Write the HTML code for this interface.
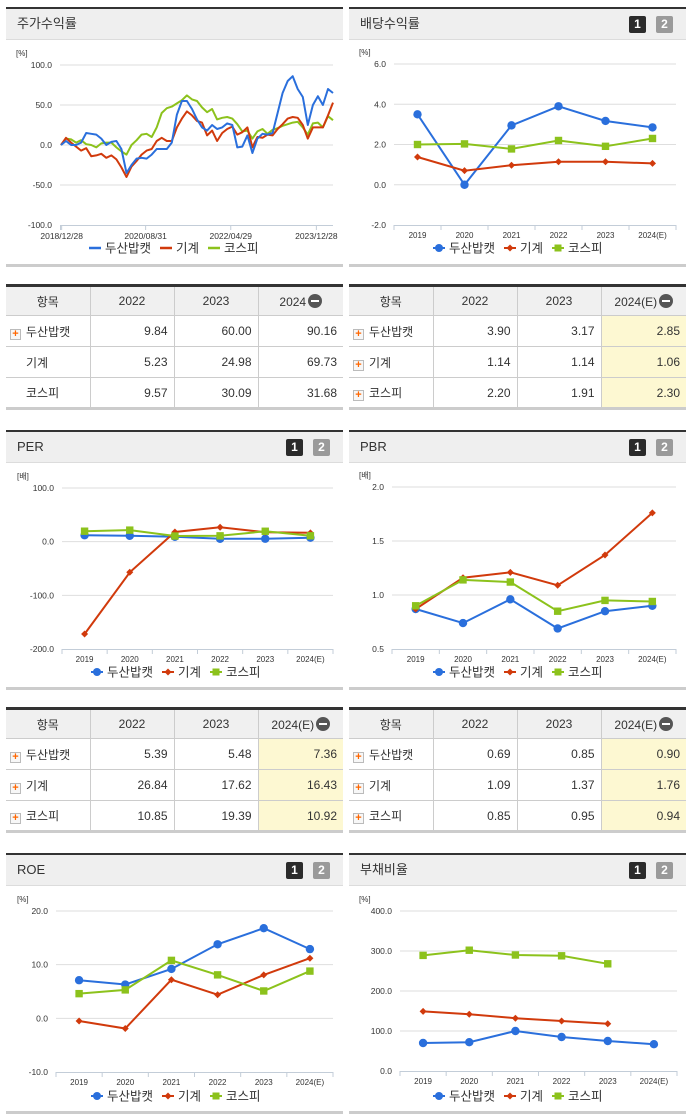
<!DOCTYPE html>
<html><head><meta charset="utf-8">
<style>
*{box-sizing:border-box;margin:0;padding:0}
body{width:691px;height:1115px;background:#fff;position:relative;overflow:hidden;font-family:"Liberation Sans","Noto Sans CJK KR",sans-serif;color:#333}
.panel{position:absolute;width:337px;border-top:2px solid #333;border-bottom:3px solid #ccc}
.hdr{height:31px;background:#efefef;border-bottom:1px solid #dcdcdc;font-size:13px;line-height:30px;padding-left:11px;position:relative}
.b1,.b2{position:absolute;top:7px;width:17px;height:17px;border-radius:2px;color:#fff;font-size:12px;font-weight:bold;line-height:17px;text-align:center}
.b1{right:40px;background:#2b2b2b}.b2{right:13px;background:#9a9a9a}
table{position:absolute;width:337px;border-collapse:collapse;border-top:3px solid #333;border-bottom:3px solid #ccc;font-size:12px}
td,th{height:31px;border-bottom:1px solid #ccc;border-right:1px solid #ccc;font-weight:normal}
td:last-child,th:last-child{border-right:none}
tr:last-child td{border-bottom:none}
th{background:#f0f0f0;text-align:center;height:30px}
td.n{text-align:right;padding-right:6px}
td.hl{background:#fdf8d2}
td.nm{padding-left:4px;white-space:nowrap}
.pl{display:inline-block;width:11px;height:11px;border:1px solid #bbb;background:#f7f7f7;color:#f60;font-size:11px;line-height:9px;text-align:center;font-weight:bold;vertical-align:-1px;margin-right:5px}
.sp{display:inline-block;width:16px}
.mi{display:inline-block;width:14px;height:14px;border-radius:7px;background:#555;vertical-align:-2px;position:relative;margin-left:2px}
.mi:after{content:"";position:absolute;left:3px;top:6px;width:8px;height:2px;background:#fff}
.lg{position:absolute;width:337px;text-align:center;font-size:12px;white-space:nowrap}
.lg span{margin:0 3px}
svg{position:absolute;left:0;top:0}
</style></head><body>

<div class="panel" style="left:6px;top:7px;height:260px"><div class="hdr">주가수익률</div></div>
<div class="panel" style="left:349px;top:7px;height:260px"><div class="hdr">배당수익률<span class="b1">1</span><span class="b2">2</span></div></div>
<div class="panel" style="left:6px;top:430px;height:260px"><div class="hdr">PER<span class="b1">1</span><span class="b2">2</span></div></div>
<div class="panel" style="left:349px;top:430px;height:260px"><div class="hdr">PBR<span class="b1">1</span><span class="b2">2</span></div></div>
<div class="panel" style="left:6px;top:853px;height:261px"><div class="hdr">ROE<span class="b1">1</span><span class="b2">2</span></div></div>
<div class="panel" style="left:349px;top:853px;height:261px"><div class="hdr">부채비율<span class="b1">1</span><span class="b2">2</span></div></div>

<table style="left:6px;top:284px">
<tr><th style="width:84px">항목</th><th style="width:84px">2022</th><th style="width:84px">2023</th><th>2024<span class="mi"></span></th></tr>
<tr><td class="nm"><span class="pl">+</span>두산밥캣</td><td class="n">9.84</td><td class="n">60.00</td><td class="n">90.16</td></tr>
<tr><td class="nm"><span class="sp"></span>기계</td><td class="n">5.23</td><td class="n">24.98</td><td class="n">69.73</td></tr>
<tr><td class="nm"><span class="sp"></span>코스피</td><td class="n">9.57</td><td class="n">30.09</td><td class="n">31.68</td></tr>
</table>
<table style="left:349px;top:284px">
<tr><th style="width:84px">항목</th><th style="width:84px">2022</th><th style="width:84px">2023</th><th>2024(E)<span class="mi"></span></th></tr>
<tr><td class="nm"><span class="pl">+</span>두산밥캣</td><td class="n">3.90</td><td class="n">3.17</td><td class="n hl">2.85</td></tr>
<tr><td class="nm"><span class="pl">+</span>기계</td><td class="n">1.14</td><td class="n">1.14</td><td class="n hl">1.06</td></tr>
<tr><td class="nm"><span class="pl">+</span>코스피</td><td class="n">2.20</td><td class="n">1.91</td><td class="n hl">2.30</td></tr>
</table>
<table style="left:6px;top:707px">
<tr><th style="width:84px">항목</th><th style="width:84px">2022</th><th style="width:84px">2023</th><th>2024(E)<span class="mi"></span></th></tr>
<tr><td class="nm"><span class="pl">+</span>두산밥캣</td><td class="n">5.39</td><td class="n">5.48</td><td class="n hl">7.36</td></tr>
<tr><td class="nm"><span class="pl">+</span>기계</td><td class="n">26.84</td><td class="n">17.62</td><td class="n hl">16.43</td></tr>
<tr><td class="nm"><span class="pl">+</span>코스피</td><td class="n">10.85</td><td class="n">19.39</td><td class="n hl">10.92</td></tr>
</table>
<table style="left:349px;top:707px">
<tr><th style="width:84px">항목</th><th style="width:84px">2022</th><th style="width:84px">2023</th><th>2024(E)<span class="mi"></span></th></tr>
<tr><td class="nm"><span class="pl">+</span>두산밥캣</td><td class="n">0.69</td><td class="n">0.85</td><td class="n hl">0.90</td></tr>
<tr><td class="nm"><span class="pl">+</span>기계</td><td class="n">1.09</td><td class="n">1.37</td><td class="n hl">1.76</td></tr>
<tr><td class="nm"><span class="pl">+</span>코스피</td><td class="n">0.85</td><td class="n">0.95</td><td class="n hl">0.94</td></tr>
</table>

<svg id="chart" width="691" height="1115"></svg>

<script>
const years = ["2019","2020","2021","2022","2023","2024(E)"];
const seriesNames = ["두산밥캣","기계","코스피"];
const divBobcat = [3.5, 0.0, 2.95, 3.90, 3.17, 2.85];
const divMach = [1.38, 0.7, 0.97, 1.14, 1.14, 1.06];
const divKospi = [2.0, 2.03, 1.78, 2.20, 1.91, 2.30];
const divTicks = [6, 4, 2, 0, -2];
const perBobcat = [12, 11, 9, 5.39, 5.48, 7.36];
const perMach = [-172, -57, 18, 26.84, 17.62, 16.43];
const perKospi = [19.5, 21.5, 10.5, 10.85, 19.39, 10.92];
const perTicks = [100, 0, -100, -200];
const pbrBobcat = [0.87, 0.74, 0.96, 0.69, 0.85, 0.90];
const pbrMach = [0.87, 1.16, 1.21, 1.09, 1.37, 1.76];
const pbrKospi = [0.90, 1.14, 1.12, 0.85, 0.95, 0.94];
const pbrTicks = [2.0, 1.5, 1.0, 0.5];
const roeBobcat = [7.1, 6.3, 9.2, 13.8, 16.8, 12.9];
const roeMach = [-0.5, -1.9, 7.2, 4.4, 8.1, 11.2];
const roeKospi = [4.6, 5.3, 10.8, 8.1, 5.1, 8.8];
const roeTicks = [20, 10, 0, -10];
const debtBobcat = [70, 72, 100, 85, 75, 67];
const debtMach = [149, 142, 132, 125, 118, null];
const debtKospi = [289, 302, 290, 288, 268, null];
const debtTicks = [400, 300, 200, 100, 0];
// stock return (%), sampled evenly over time
const retBobcat = [0,5,0,0,3,15,14,13,8,0,4,5,-5,-35,-25,-17,-16,-17,-12,-5,-5,-5,3,38,55,55,45,32,22,18,25,20,22,27,25,-3,-2,12,-10,8,14,13,15,40,65,80,86,70,60,25,50,61,50,70,65];
const retMach = [0,9,3,-2,-7,-4,-14,-13,-11,-16,-13,-18,-28,-40,-27,-20,-12,-7,-5,5,9,5,5,22,33,42,37,30,28,12,18,5,15,20,23,13,16,22,-3,10,9,13,12,20,26,33,35,34,25,8,22,22,22,37,53];
const retKospi = [0,8,7,3,6,1,0,-3,2,3,3,-3,-8,-12,0,6,13,14,10,22,40,46,48,52,56,62,57,55,47,41,45,32,34,35,33,26,17,18,8,17,20,14,19,21,24,26,28,29,22,13,27,28,22,36,31];
const retTickLabels = ["2018/12/28","2020/08/31","2022/04/29","2023/12/28"];
const retTickIdx = [0.13, 16.8, 33.7, 50.7];
const retTicks = [100, 50, 0, -50, -100];

const COL = ["#2a6fdc","#d13a0c","#8cc21c"];
const svg = document.getElementById('chart');
const NS = "http://www.w3.org/2000/svg";
function mk(tag, attrs, parent){const e=document.createElementNS(NS,tag);for(const k in attrs)e.setAttribute(k,attrs[k]);(parent||svg).appendChild(e);return e;}
function txt(x,y,s,anchor,size,parent){const t=mk('text',{x:x,y:y,'text-anchor':anchor,'font-size':size,fill:'#333','font-family':'Liberation Sans, Noto Sans CJK KR, sans-serif'},parent);t.textContent=s;return t;}

function frame(name, o){
  const g=mk('g',{});
  
  
  const ys=v=>o.top+(o.max-v)/(o.max-o.min)*(o.bot-o.top);
  txt(o.left-44<0?8:o.unitX,o.top-9,o.unit,'start',8,g);
  o.ticks.forEach(v=>{
    const y=ys(v);
    if(v!==o.min){const l=mk('line',{x1:o.left,x2:o.right,y1:y,y2:y,stroke:'#dedede','stroke-width':1},g);
      
      }
    const t=txt(o.left-8,y+3,v.toFixed(1),'end',8.5,g);
    
    
  });
  mk('line',{x1:o.left,x2:o.right,y1:o.bot+0.5,y2:o.bot+0.5,stroke:'#c3cdd8','stroke-width':1},g);
  return {g,ys};
}

function catChart(name,o,series){
  const f=frame(name,o);const g=f.g,ys=f.ys;
  const bw=(o.right-o.left)/years.length;
  const xs=i=>o.left+(i+0.5)*bw;
  for(let i=0;i<=years.length;i++){mk('line',{x1:o.left+i*bw,x2:o.left+i*bw,y1:o.bot,y2:o.bot+5,stroke:'#c3cdd8'},g);}
  years.forEach((yv,i)=>{const t=txt(xs(i),o.bot+13,yv,'middle',8,g);
    
    });
  series.forEach((vals,si)=>{
    let d='';vals.forEach((v,i)=>{if(v===null)return;d+=(d?'L':'M')+xs(i).toFixed(1)+','+ys(v).toFixed(1);});
    const p=mk('path',{d:d,fill:'none',stroke:COL[si],'stroke-width':2},g);
    
    
    vals.forEach((v,i)=>{if(v===null)return;const x=xs(i),y=ys(v);let m;
      if(si===0)m=mk('circle',{cx:x,cy:y,r:4.2,fill:COL[0]},g);
      else if(si===1)m=mk('path',{d:`M${x},${y-3.5}L${x+3.5},${y}L${x},${y+3.5}L${x-3.5},${y}Z`,fill:COL[1]},g);
      else m=mk('rect',{x:x-3.7,y:y-3.7,width:7.4,height:7.4,fill:COL[2]},g);
      
      
    });
  });
}
function legend(cx,y,lines,name){
  const g=mk('g',{});
  
  
  const offs=[-55,16,64];
  seriesNames.forEach((s,i)=>{const x=cx+offs[i]-24;
    if(lines){mk('line',{x1:x-6,x2:x+6,y1:y,y2:y,stroke:COL[i],'stroke-width':2.5},g);}
    else{mk('line',{x1:x-6,x2:x+6,y1:y,y2:y,stroke:COL[i],'stroke-width':2},g);
      if(i===0)mk('circle',{cx:x,cy:y,r:4,fill:COL[0]},g);
      else if(i===1)mk('path',{d:`M${x},${y-3.5}L${x+3.5},${y}L${x},${y+3.5}L${x-3.5},${y}Z`,fill:COL[1]},g);
      else mk('rect',{x:x-3.5,y:y-3.5,width:7,height:7,fill:COL[2]},g);}
    const t=txt(x+10,y+4.5,s,'start',12.5,g);
    
    
  });
}

// stock return chart
(function(){
  const o={left:60,right:333,top:65,bot:225,max:100,min:-100,ticks:retTicks,unit:'[%]',unitX:16};
  const f=frame('stock-return-chart',o);const g=f.g,ys=f.ys;
  const n=retBobcat.length;const xs=i=>61+i*(333-61)/(n-1);
  retTickIdx.forEach((ti,k)=>{const x=xs(ti);mk('line',{x1:x,x2:x,y1:o.bot,y2:o.bot+5,stroke:'#c3cdd8'},g);
    const t=txt(x,o.bot+14,retTickLabels[k],'middle',8.5,g);
    
    });
  mk('line',{x1:60.5,x2:60.5,y1:o.bot,y2:o.bot+5,stroke:'#c3cdd8'},g);
  [retKospi,retMach,retBobcat].forEach((vals,k)=>{const si=[2,1,0][k];
    const d=vals.map((v,i)=>(i?'L':'M')+xs(i).toFixed(1)+','+ys(v).toFixed(1)).join('');
    const p=mk('path',{d:d,fill:'none',stroke:COL[si],'stroke-width':2,'stroke-linejoin':'round'},g);
    
    });
})();
legend(174,248,true,'stock-return-legend');

catChart('dividend-yield-chart',{left:394,right:676,top:64,bot:225,max:6,min:-2,ticks:divTicks,unit:'[%]',unitX:359},[divBobcat,divMach,divKospi]);
legend(518,248,false,'dividend-yield-legend');
catChart('per-chart',{left:62,right:333,top:488,bot:649,max:100,min:-200,ticks:perTicks,unit:'[배]',unitX:17},[perBobcat,perMach,perKospi]);
legend(176,672,false,'per-legend');
catChart('pbr-chart',{left:392,right:676,top:487,bot:649,max:2,min:0.5,ticks:pbrTicks,unit:'[배]',unitX:359},[pbrBobcat,pbrMach,pbrKospi]);
legend(518,672,false,'pbr-legend');
catChart('roe-chart',{left:56,right:333,top:911,bot:1072,max:20,min:-10,ticks:roeTicks,unit:'[%]',unitX:17},[roeBobcat,roeMach,roeKospi]);
legend(176,1096,false,'roe-legend');
catChart('debt-ratio-chart',{left:400,right:677,top:911,bot:1071,max:400,min:0,ticks:debtTicks,unit:'[%]',unitX:359},[debtBobcat,debtMach,debtKospi]);
legend(518,1096,false,'debt-ratio-legend');
</script>
</body></html>
